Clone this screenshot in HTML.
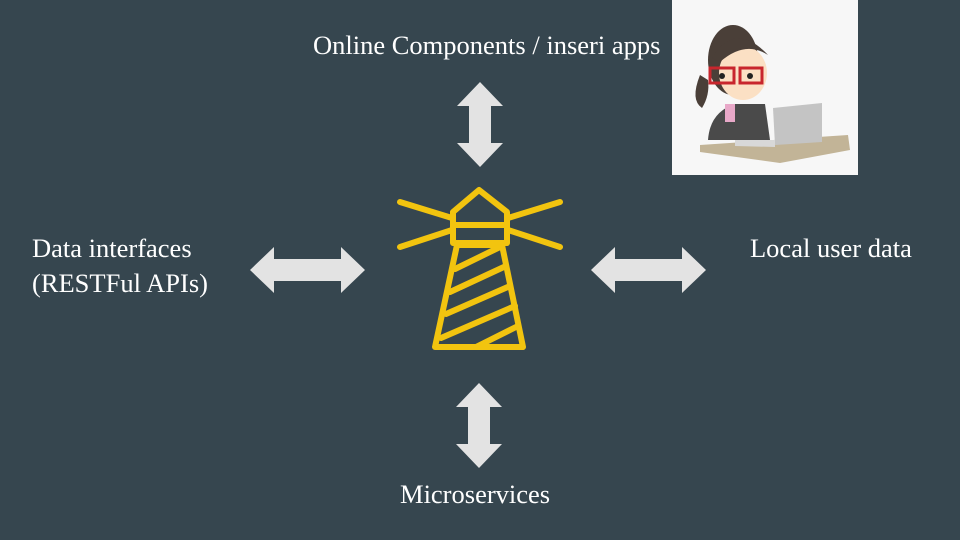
<!DOCTYPE html>
<html><head><meta charset="utf-8"><style>
html,body{margin:0;padding:0}
body{width:960px;height:540px;background:#36464f;position:relative;overflow:hidden;font-family:"Liberation Serif",serif;color:#fff}
.t{position:absolute;font-size:26.5px;line-height:35px;white-space:nowrap}
</style></head><body>
<div class="t" style="left:313px;top:28px">Online Components / inseri apps</div>
<div class="t" style="left:32px;top:231px">Data interfaces<br>(RESTFul APIs)</div>
<div class="t" style="left:750px;top:231px">Local user data</div>
<div class="t" style="left:400px;top:477px">Microservices</div>
<svg width="960" height="540" style="position:absolute;left:0;top:0">
<defs>
<polygon id="ha" points="0,23 24,0 24,12 91,12 91,0 115,23 91,46 91,34 24,34 24,46" fill="#e3e3e3"/>
<polygon id="va" points="23,0 46,24 34,24 34,61 46,61 23,85 0,61 12,61 12,24 0,24" fill="#e3e3e3"/>
</defs>
<use href="#ha" x="250" y="247"/>
<use href="#ha" x="591" y="247"/>
<use href="#va" x="457" y="82"/>
<use href="#va" x="456" y="383"/>
<g fill="none" stroke="#f2c40f" stroke-width="6" stroke-linecap="round" stroke-linejoin="round">
<polygon points="453,212 479,190 507,212 507,243 453,243"/>
<line x1="453" y1="225" x2="507" y2="225"/>
<line x1="400" y1="202" x2="452" y2="218"/>
<line x1="400" y1="247" x2="452" y2="230"/>
<line x1="560" y1="202" x2="508" y2="218"/>
<line x1="560" y1="247" x2="508" y2="230"/>
<polygon points="457,245 502,245 523,347 435,347"/>
<line x1="455" y1="269" x2="500" y2="247"/>
<line x1="450" y1="292" x2="506" y2="266"/>
<line x1="446" y1="314" x2="510" y2="286"/>
<line x1="441" y1="338" x2="515" y2="306"/>
<line x1="476" y1="347" x2="518" y2="326"/>
</g>
<rect x="672" y="0" width="186" height="175" fill="#f7f7f7"/>
<polygon points="700,145 848,135 850,150 780,163 700,152" fill="#c2b497"/>
<path d="M708,140 Q710,112 735,104 L765,104 L770,140 Z" fill="#4a4a4a"/>
<rect x="725" y="104" width="10" height="18" fill="#e8a8c8"/>
<polygon points="773,108 822,103 822,142 775,145" fill="#c4c4c4"/>
<polygon points="735,140 775,140 775,147 735,146" fill="#d8d8d8"/>
<ellipse cx="733" cy="60" rx="25" ry="35" fill="#4a3f38"/>
<ellipse cx="743" cy="73" rx="24" ry="27" fill="#fbe0c4"/>
<path d="M712,58 Q735,20 768,55 Q745,40 720,62 Z" fill="#4a3f38"/>
<path d="M700,75 Q690,100 702,108 Q710,95 708,80 Z" fill="#4a3f38"/>
<g fill="none" stroke="#c8262d" stroke-width="3"><rect x="710" y="68" width="24" height="15"/><rect x="740" y="68" width="22" height="15"/></g>
<circle cx="722" cy="76" r="3" fill="#222"/><circle cx="750" cy="76" r="3" fill="#222"/>
</svg>
</body></html>
